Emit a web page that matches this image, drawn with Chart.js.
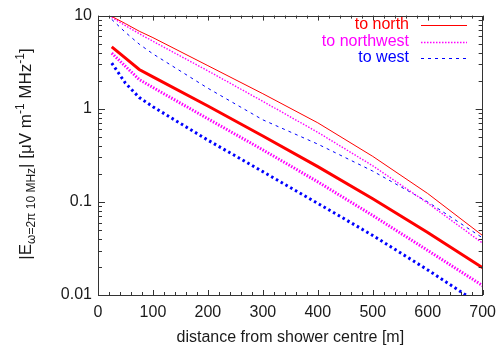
<!DOCTYPE html>
<html>
<head>
<meta charset="utf-8">
<script src="https://cdn.jsdelivr.net/npm/chart.js@4/dist/chart.umd.min.js"></script>
<style>
html, body { margin: 0; padding: 0; background: #fff; }
</style>
</head>
<body>
<canvas id="myChart" width="504" height="356"></canvas>
<script>
// distances from the shower centre [m]
const distances = [25, 50, 75, 100, 200, 300, 400, 500, 600, 700];

// thin lines (upper group)
const northUpper     = [9.8, 8.2, 6.8, 5.8, 2.90, 1.45, 0.706, 0.308, 0.123, 0.0435];
const northwestUpper = [9.6, 7.8, 6.4, 5.3, 2.55, 1.20, 0.558, 0.244, 0.097, 0.036];
const westUpper      = [9.1, 6.6, 4.94, 3.88, 1.66, 0.76, 0.417, 0.214, 0.100, 0.041];

// thick lines (lower group)
const northLower     = [4.62, 3.5, 2.64, 2.20, 1.07, 0.51, 0.239, 0.108, 0.047, 0.0196];
const northwestLower = [3.95, 2.85, 2.06, 1.69, 0.78, 0.362, 0.164, 0.0714, 0.0301, 0.0126];
const westLower      = [3.09, 1.88, 1.32, 1.05, 0.46, 0.211, 0.0964, 0.0436, 0.0186, 0.0076];

const legendLabels = ['to north', 'to northwest', 'to west'];
const xTicks = [0, 100, 200, 300, 400, 500, 600, 700];
const yTicks = [0.01, 0.1, 1, 10];

const FONT = "'Liberation Sans', Arial, sans-serif";
const RED = '#ff0000', MAGENTA = '#ff00ff', BLUE = '#0000ff';
const thinStyles = [
  { color: RED, width: 1, dash: [] },
  { color: MAGENTA, width: 1.4, dash: [1.5, 1.5] },
  { color: BLUE, width: 1, dash: [3, 4] }
];

function pts(vals) {
  return vals.map((v, i) => ({ x: distances[i], y: v }));
}

function line(vals, color, width, dash) {
  return {
    data: pts(vals),
    borderColor: color,
    borderWidth: width,
    borderDash: dash,
    pointRadius: 0,
    fill: false,
    tension: 0
  };
}

const datasets = [
  line(northUpper, thinStyles[0].color, thinStyles[0].width, thinStyles[0].dash),
  line(northwestUpper, thinStyles[1].color, thinStyles[1].width, thinStyles[1].dash),
  line(westUpper, thinStyles[2].color, thinStyles[2].width, thinStyles[2].dash),
  line(northLower, RED, 3, []),
  line(northwestLower, MAGENTA, 3, [1.5, 1.5]),
  line(westLower, BLUE, 3, [2.5, 3])
];

// frame, inward ticks on all four sides
const framePlugin = {
  id: 'frame',
  afterDraw(chart) {
    const ctx = chart.ctx;
    const a = chart.chartArea;
    const xs = chart.scales.x, ys = chart.scales.y;
    ctx.save();
    ctx.strokeStyle = '#333';
    ctx.lineWidth = 1;
    ctx.setLineDash([]);
    ctx.strokeRect(Math.round(a.left) + 0.5, Math.round(a.top) + 0.5,
      Math.round(a.right - a.left) - 1, Math.round(a.bottom - a.top));
    ctx.beginPath();
    for (let v = 0; v <= 700; v += 20) {
      const len = v % 100 === 0 ? 5 : 3;
      const px = Math.round(xs.getPixelForValue(v)) + 0.5;
      ctx.moveTo(px, a.bottom); ctx.lineTo(px, a.bottom - len);
      ctx.moveTo(px, a.top); ctx.lineTo(px, a.top + len);
    }
    for (let k = -2; k <= 1; k++) {
      for (let m = 1; m <= 9; m++) {
        const v = m * Math.pow(10, k);
        if (v > 10.0001) break;
        const len = m === 1 ? 7 : 4;
        const py = Math.round(ys.getPixelForValue(v)) + 0.5;
        ctx.moveTo(a.left, py); ctx.lineTo(a.left + len, py);
        ctx.moveTo(a.right, py); ctx.lineTo(a.right - len, py);
      }
    }
    ctx.stroke();
    ctx.restore();
  }
};

// legend: right aligned text followed by a line sample
const legendPlugin = {
  id: 'sideLegend',
  afterDraw(chart) {
    const ctx = chart.ctx;
    ctx.save();
    ctx.font = '16px ' + FONT;
    ctx.textAlign = 'right';
    ctx.textBaseline = 'middle';
    legendLabels.forEach((label, i) => {
      const st = thinStyles[i];
      const y = 25 + i * 16.5;
      ctx.fillStyle = st.color;
      ctx.fillText(label, 409, y);
      ctx.beginPath();
      ctx.strokeStyle = st.color;
      ctx.lineWidth = st.width;
      ctx.setLineDash(st.dash);
      ctx.moveTo(421, Math.round(y) + 0.5);
      ctx.lineTo(467, Math.round(y) + 0.5);
      ctx.stroke();
    });
    ctx.restore();
  }
};

// rotated y title with sub/superscripts
const yTitlePlugin = {
  id: 'yTitle',
  afterDraw(chart) {
    const ctx = chart.ctx;
    const parts = [
      ['|E', 17, 0],
      ['\u03c9=2\u03c0 10 MHz', 12, 4],
      ['| [\u03bcV m', 17, 0],
      ['-1', 12, -7],
      [' MHz', 17, 0],
      ['-1', 12, -7],
      [']', 17, 0]
    ];
    ctx.save();
    ctx.fillStyle = '#1a1a1a';
    ctx.textBaseline = 'alphabetic';
    ctx.textAlign = 'left';
    let total = 0;
    parts.forEach(p => { ctx.font = p[1] + 'px ' + FONT; total += ctx.measureText(p[0]).width; });
    ctx.translate(25, 154);
    ctx.rotate(-Math.PI / 2);
    let x = -total / 2;
    parts.forEach(p => {
      ctx.font = p[1] + 'px ' + FONT;
      ctx.fillText(p[0], x, 6 + p[2]);
      x += ctx.measureText(p[0]).width;
    });
    ctx.restore();
  }
};

new Chart(document.getElementById('myChart'), {
  type: 'line',
  data: { datasets: datasets },
  plugins: [framePlugin, legendPlugin, yTitlePlugin],
  options: {
    responsive: false,
    animation: false,
    devicePixelRatio: 1,
    layout: { padding: { left: 0, right: 17, top: 11, bottom: 0 } },
    plugins: { legend: { display: false }, tooltip: { enabled: false } },
    scales: {
      x: {
        type: 'linear',
        min: 0,
        max: 700,
        afterBuildTicks: s => { s.ticks = xTicks.map(v => ({ value: v })); },
        afterFit: s => { s.height = 61; },
        grid: { display: false, drawTicks: false },
        border: { display: false },
        ticks: { font: { size: 16, family: FONT }, color: '#1a1a1a', padding: 8, maxRotation: 0 },
        title: {
          display: true,
          text: 'distance from shower centre [m]',
          font: { size: 16, family: FONT },
          color: '#1a1a1a',
          padding: { top: 0, bottom: 9 }
        }
      },
      y: {
        type: 'logarithmic',
        min: 0.01,
        max: 10,
        afterBuildTicks: s => { s.ticks = yTicks.map(v => ({ value: v })); },
        afterFit: s => { s.width = 98; },
        grid: { display: false, drawTicks: false },
        border: { display: false },
        ticks: {
          font: { size: 16, family: FONT },
          color: '#1a1a1a',
          padding: 6,
          callback: v => String(v)
        }
      }
    }
  }
});
</script>
</body>
</html>
